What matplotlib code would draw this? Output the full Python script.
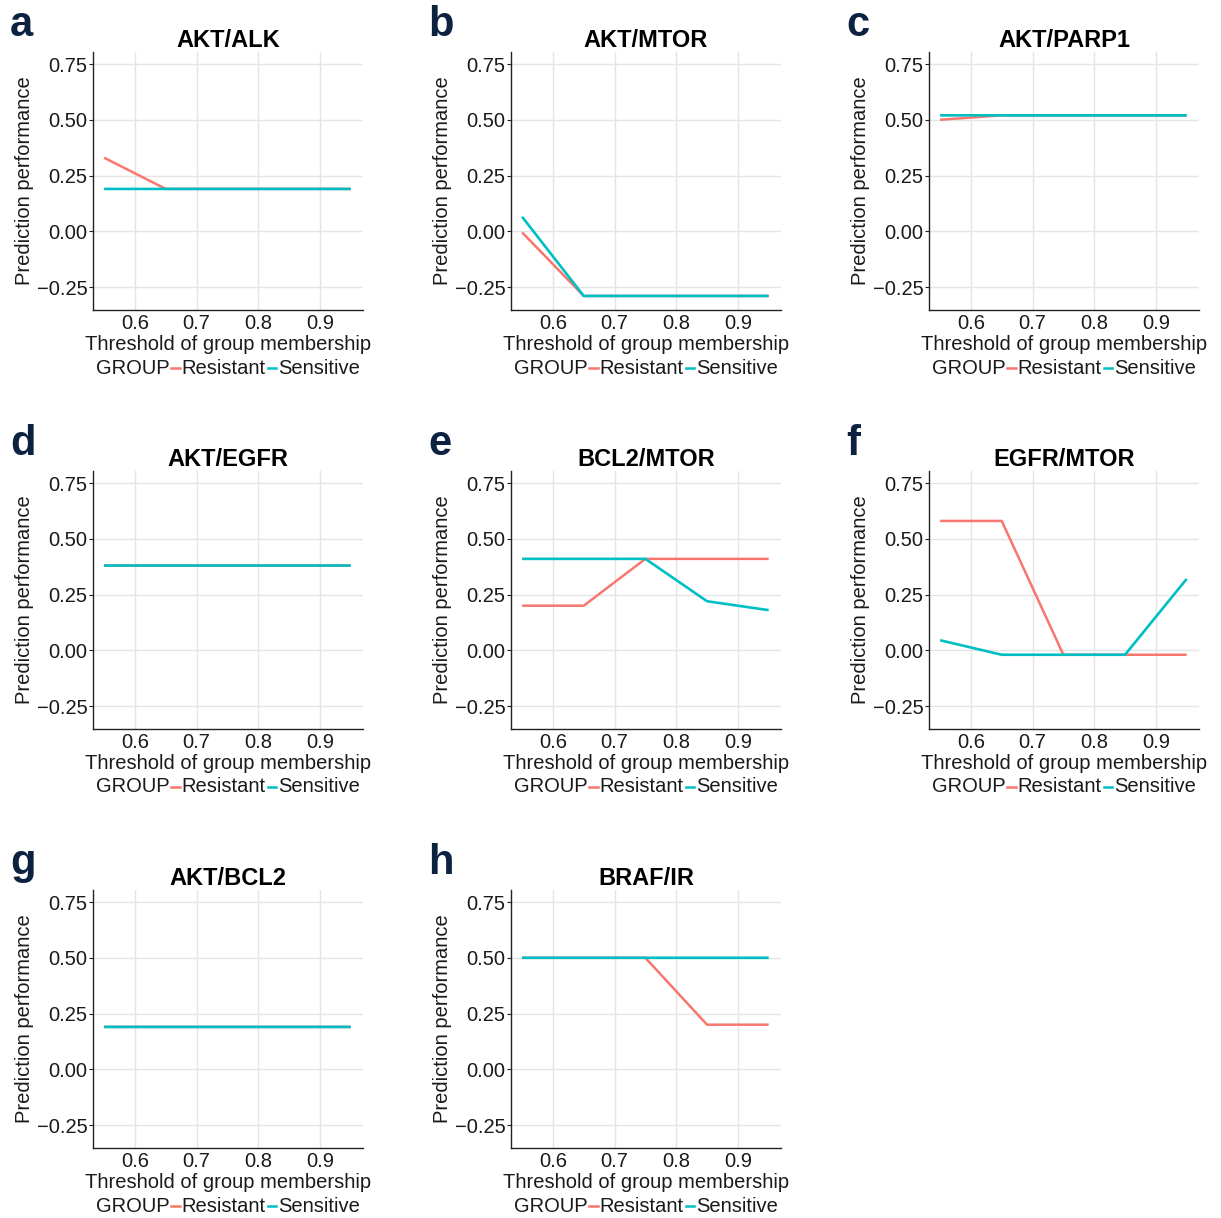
import matplotlib
matplotlib.use("Agg")
import matplotlib.pyplot as plt
from matplotlib.lines import Line2D
from matplotlib.offsetbox import HPacker, TextArea, DrawingArea, AnchoredOffsetbox

plt.rcParams['font.family'] = ['Liberation Sans', 'DejaVu Sans']

thresholds = [0.55, 0.65, 0.75, 0.85, 0.95]
panel_letters = ["a", "b", "c", "d", "e", "f", "g", "h"]
titles = ["AKT/ALK", "AKT/MTOR", "AKT/PARP1", "AKT/EGFR", "BCL2/MTOR", "EGFR/MTOR", "AKT/BCL2", "BRAF/IR"]

resistant = [
    [0.33, 0.19, 0.19, 0.19, 0.19],
    [-0.005, -0.29, -0.29, -0.29, -0.29],
    [0.50, 0.52, 0.52, 0.52, 0.52],
    [0.38, 0.38, 0.38, 0.38, 0.38],
    [0.20, 0.20, 0.41, 0.41, 0.41],
    [0.58, 0.58, -0.02, -0.02, -0.02],
    [0.19, 0.19, 0.19, 0.19, 0.19],
    [0.50, 0.50, 0.50, 0.20, 0.20],
]
sensitive = [
    [0.19, 0.19, 0.19, 0.19, 0.19],
    [0.065, -0.29, -0.29, -0.29, -0.29],
    [0.52, 0.52, 0.52, 0.52, 0.52],
    [0.38, 0.38, 0.38, 0.38, 0.38],
    [0.41, 0.41, 0.41, 0.22, 0.18],
    [0.045, -0.02, -0.02, -0.02, 0.32],
    [0.19, 0.19, 0.19, 0.19, 0.19],
    [0.50, 0.50, 0.50, 0.50, 0.50],
]
xticks = [0.6, 0.7, 0.8, 0.9]
yticks = [-0.25, 0.0, 0.25, 0.5, 0.75]
ytick_labels = ["\u22120.25", "0.00", "0.25", "0.50", "0.75"]

RED = "#F8766D"
TEAL = "#00BFC4"
W, H = 1221, 1218
fig = plt.figure(figsize=(W / 100, H / 100), dpi=100)

col_left = [93, 511, 929]
row_top = [52, 471, 890]
aw, ah = 270, 258

for i in range(8):
    r, c = divmod(i, 3)
    left = col_left[c] / W
    bottom = (H - row_top[r] - ah) / H
    ax = fig.add_axes([left, bottom, aw / W, ah / H])
    ax.set_xlim(0.532, 0.97)
    ax.set_ylim(-0.353, 0.804)
    ax.grid(True, color="#E5E5E5", linewidth=1.0)
    ax.set_axisbelow(True)
    for s in ["top", "right"]:
        ax.spines[s].set_visible(False)
    for s in ["left", "bottom"]:
        ax.spines[s].set_color("#222222")
        ax.spines[s].set_linewidth(1.0)
    ax.plot(thresholds, resistant[i], color=RED, lw=1.8, solid_capstyle="butt", snap=False)
    ax.plot(thresholds, sensitive[i], color=TEAL, lw=1.9, solid_capstyle="butt", snap=False)
    ax.set_xticks(xticks)
    ax.set_xticklabels([str(t) for t in xticks])
    ax.set_yticks(yticks)
    ax.set_yticklabels(ytick_labels)
    ax.tick_params(axis="both", labelsize=14.5, colors="#222222", labelcolor="#1a1a1a")
    ax.tick_params(axis="x", length=0, pad=3)
    ax.tick_params(axis="y", length=3, pad=1)
    ax.set_xlabel("Threshold of group membership", fontsize=14.5, labelpad=1, color="#1a1a1a")
    ax.set_ylabel("Prediction performance", fontsize=14.5, labelpad=2, color="#1a1a1a")
    ax.set_title(titles[i], fontsize=17, fontweight="bold", pad=3)
    # panel letter
    fig.text((col_left[c] - 83) / W, 1 - (row_top[r] - 27) / H, panel_letters[i],
             fontsize=30, fontweight="bold", color="#0d2240", va="center", ha="left")
    # legend
    def key(color):
        da = DrawingArea(7, 10, 0, 0)
        da.add_artist(Line2D([0.5, 6.5], [5, 5], color=color, lw=1.8))
        return da
    tp = dict(fontsize=14.5, color="#1a1a1a")
    box = HPacker(children=[TextArea("GROUP", textprops=tp), key(RED),
                            TextArea("Resistant", textprops=tp), key(TEAL),
                            TextArea("Sensitive", textprops=tp)],
                  align="center", pad=0, sep=1)
    anch = AnchoredOffsetbox(loc="center", child=box, frameon=False,
                             bbox_to_anchor=(0.5, -(368 - 310) / ah),
                             bbox_transform=ax.transAxes, borderpad=0, pad=0)
    ax.add_artist(anch)

fig.savefig("out.png", dpi=100)
